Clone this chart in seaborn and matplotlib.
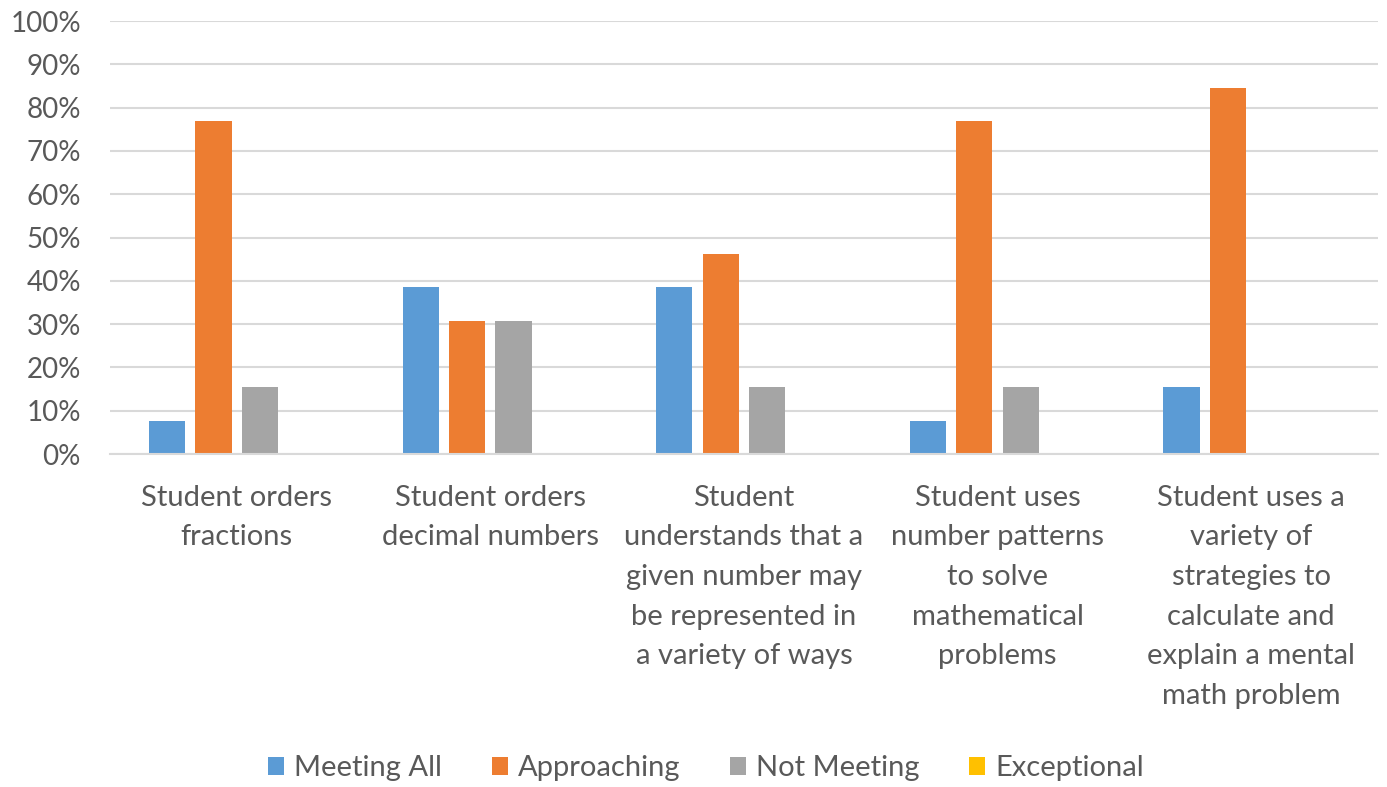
import matplotlib
matplotlib.use("Agg")
import matplotlib.pyplot as plt
from matplotlib.ticker import PercentFormatter
import seaborn as sns
import pandas as pd

# Chart data (percent of students)
categories = [
    "Student orders\nfractions",
    "Student orders\ndecimal numbers",
    "Student\nunderstands that a\ngiven number may\nbe represented in\na variety of ways",
    "Student uses\nnumber patterns\nto solve\nmathematical\nproblems",
    "Student uses a\nvariety of\nstrategies to\ncalculate and\nexplain a mental\nmath problem",
]
series = ["Meeting All", "Approaching", "Not Meeting", "Exceptional"]
meeting_all = [7.69, 38.46, 38.46, 7.69, 15.38]
approaching = [76.92, 30.77, 46.15, 76.92, 84.62]
not_meeting = [15.38, 30.77, 15.38, 15.38, 0.0]
exceptional = [0.0, 0.0, 0.0, 0.0, 0.0]
colors = ["#5B9BD5", "#ED7D31", "#A5A5A5", "#FFC000"]

# long form for seaborn
rows = []
for name, vals in zip(series, [meeting_all, approaching, not_meeting, exceptional]):
    for cat, v in zip(categories, vals):
        rows.append({"category": cat, "series": name, "value": v})
df = pd.DataFrame(rows)

sns.set_theme(style="white")
plt.rcParams['font.family'] = ['Lato', 'DejaVu Sans']
text_color = "#595959"
grid_color = "#D9D9D9"

fig = plt.figure(figsize=(13.87, 7.87), dpi=100)
ax = fig.add_axes([0.0793, 0.4231, 0.9142, 0.5502])

sns.barplot(data=df, x="category", y="value", hue="series", palette=colors,
            saturation=1, width=0.733, gap=0.22, linewidth=0, ax=ax, legend=True)

ax.set_ylim(0, 100)
ax.set_yticks(range(0, 101, 10))
ax.yaxis.set_major_formatter(PercentFormatter(decimals=0))
ax.set_xlim(-0.5, len(categories) - 0.5)
ax.set_xlabel("")
ax.set_ylabel("")

ax.grid(axis="y", color=grid_color, linewidth=1.5)
ax.set_axisbelow(True)
for s in ["top", "right", "left"]:
    ax.spines[s].set_visible(False)
ax.spines["bottom"].set_color(grid_color)
ax.spines["bottom"].set_linewidth(1.5)

ax.tick_params(axis="y", length=0, pad=21, labelsize=20, labelcolor=text_color)
ax.tick_params(axis="x", length=0, pad=22, labelsize=21, labelcolor=text_color)
for lbl in ax.get_xticklabels():
    lbl.set_linespacing(1.65)
    lbl.set_verticalalignment("top")

handles, labels = ax.get_legend_handles_labels()
ax.legend_.remove()
fig.legend(handles, labels, loc="center", bbox_to_anchor=(0.509, 0.024), ncol=4,
           frameon=False, fontsize=21, labelcolor=text_color,
           handlelength=0.55, handleheight=0.55, handletextpad=0.35, columnspacing=1.7)

fig.savefig("out.png", dpi=100)
